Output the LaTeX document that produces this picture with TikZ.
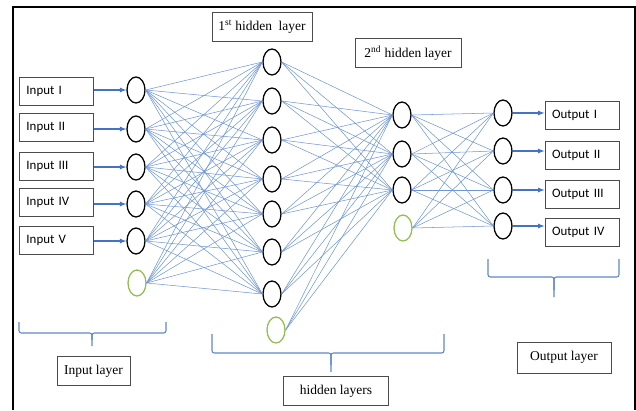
\documentclass[tikz,border=0pt]{standalone}
\usepackage{fontspec}
\setmainfont{Liberation Serif}
\newfontfamily\boxfont{Carlito}
\usetikzlibrary{shapes.geometric}
\definecolor{linkblue}{RGB}{110,150,212}
\definecolor{arrowblue}{RGB}{68,114,196}
\definecolor{biasgreen}{RGB}{146,190,80}

\begin{document}
\begin{tikzpicture}[x=0.03cm,y=-0.03cm,
    neuron/.style={ellipse,draw=black,line width=1.1pt,minimum width=0.54cm,minimum height=0.78cm,inner sep=0pt},
    bias/.style={neuron,draw=biasgreen},
    link/.style={draw=linkblue,line width=0.45pt},
    feed/.style={->,>=latex,draw=arrowblue,line width=0.9pt},
    iobox/.style={draw=black!70,line width=0.8pt,font=\boxfont\fontsize{11}{13}\selectfont,text width=1.8cm,inner xsep=0.21cm,align=left,minimum height=0.84cm},
    layerbox/.style={draw=black!70,line width=0.8pt,font=\fontsize{11.5}{13}\selectfont,minimum height=0.88cm},
    curly/.style={draw=arrowblue!85,line width=0.9pt,rounded corners=2pt}]
    \useasboundingbox (0,0) rectangle (636,410);
    \draw[line width=1.3pt](13,410)--(13,7)--(635,7)--(635,410);

    \foreach \n/\y in {1/90,2/129,3/167,4/204,5/241}
        \node[neuron](i\n) at (136,\y){};
    \node[bias](i6) at (137,283){};
    \foreach \n/\y in {1/62,2/101,3/140,4/179,5/214,6/252,7/294}
        \node[neuron](h\n) at (272,\y){};
    \node[bias](h8) at (276,330){};
    \foreach \n/\y in {1/115,2/154,3/190}
        \node[neuron](g\n) at (402,\y){};
    \node[bias](g4) at (403,228){};
    \foreach \n/\y in {1/113,2/151,3/190,4/226}
        \node[neuron](o\n) at (503,\y){};

    \foreach \a in {1,...,6}
        \foreach \b in {1,...,7}
            \draw[link](i\a.east)--(h\b.west);
    \foreach \a in {1,...,8}
        \foreach \b in {1,2,3}
            \draw[link](h\a.east)--(g\b.west);
    \foreach \a in {1,...,4}
        \foreach \b in {1,...,4}
            \draw[link](g\a.east)--(o\b.west);

    \foreach \n/\y/\t in {1/91/I,2/127/II,3/166/III,4/202/IV,5/240/V}{
        \node[iobox](x\n) at (56.5,\y){Input \t};
        \draw[feed](i\n.west -| x\n.east)--(i\n.west);
    }
    \foreach \n/\y/\t in {1/115/I,2/155/II,3/194/III,4/232/IV}{
        \node[iobox](y\n) at (582,\y){Output \t};
        \draw[feed](o\n.east)--(o\n.east -| y\n.west);
    }

    \node[layerbox,minimum width=3cm](first) at (262,27){1\textsuperscript{st} hidden\ \ layer};
    \node[layerbox,minimum width=3.18cm](second) at (408,53){2\textsuperscript{nd} hidden layer};
    \node[layerbox,minimum width=2.19cm](inlabel) at (93.5,371){Input layer};
    \node[layerbox,minimum width=3.15cm](hidlabel) at (336,391){hidden layers};
    \node[layerbox,minimum width=2.82cm,minimum height=0.93cm](outlabel) at (564,357.5){Output layer};

    \draw[curly](19,322)--(19,333)--(92,333)--(92,346);
    \draw[curly](92,340)--(92,333)--(166,333)--(166,322);
    \draw[curly](212,334)--(212,353)--(331,353)--(331,372);
    \draw[curly](331,365)--(331,353)--(444,353)--(444,334);
    \draw[curly](488,259)--(488,277)--(554,277)--(554,297);
    \draw[curly](554,290)--(554,277)--(619,277)--(619,259);
\end{tikzpicture}
\end{document}
